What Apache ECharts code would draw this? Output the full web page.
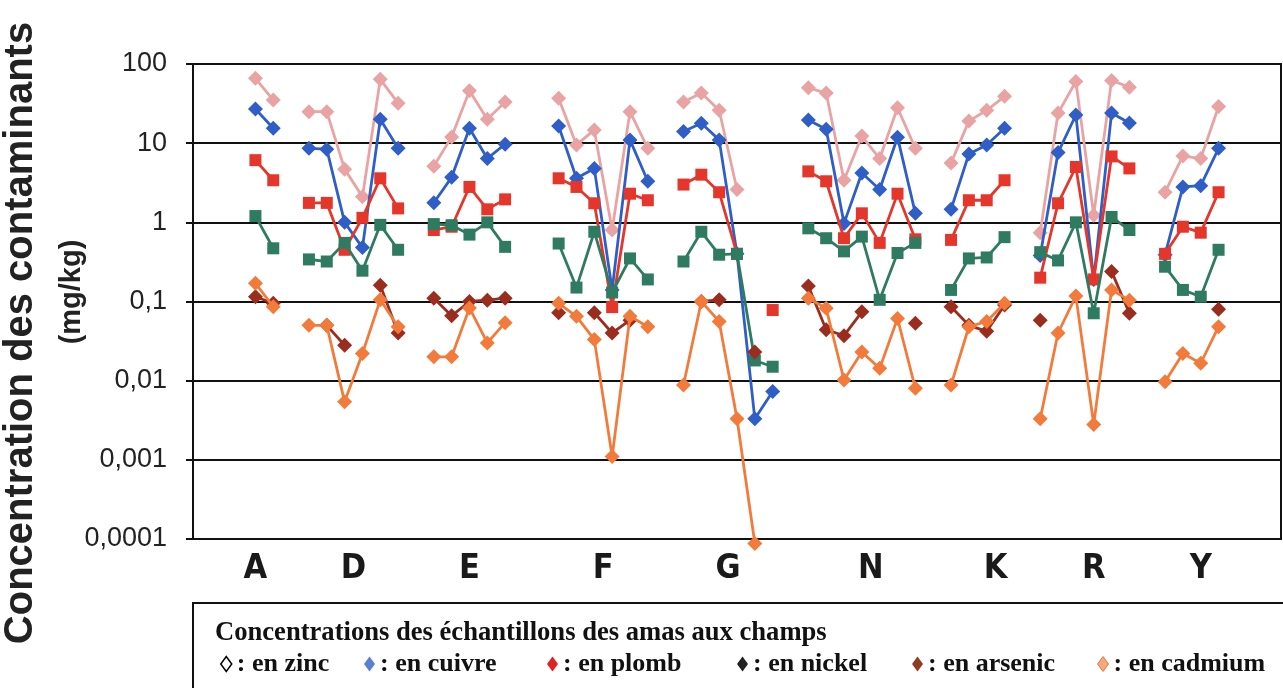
<!DOCTYPE html>
<html>
<head>
<meta charset="utf-8">
<script src="https://cdn.jsdelivr.net/npm/echarts@6/dist/echarts.min.js"></script>
<style>
  html, body { margin: 0; padding: 0; background: #fff; }
  #main { width: 1283px; height: 688px; }
</style>
</head>
<body>
<div id="main"></div>
<script>
// sites (amas) and number of samples per site
var groupNames = ['A', 'D', 'E', 'F', 'G', 'N', 'K', 'R', 'Y'];
var groupSizes = [2, 6, 5, 6, 6, 7, 4, 6, 4];
var gapsBefore = [3, 1, 1, 2, 1, 1, 1, 1, 1];
var gapAfter = 3;

// tick labels
var yTickLabels = ['0,0001', '0,001', '0,01', '0,1', '1', '10', '100'];
var groupLabelSlots = [7, 18, 31, 46, 60, 76, 90, 101, 113];

// concentrations (mg/kg), one sub-array per site
var zinc = [
  [66, 35],
  [25, 25, 4.7, 2.1, 64, 32],
  [5.1, 12, 46, 20, 33],
  [37, 9.5, 14.7, 0.8, 25, 8.6],
  [33, 43, 26, 2.6, null, null],
  [50, 43, 3.4, 12.3, 6.4, 28, 8.6],
  [5.6, 19, 26, 39],
  [0.74, 24, 60, 1.23, 62, 51],
  [2.4, 6.9, 6.4, 29]
];
var cuivre = [
  [27, 15.4],
  [8.6, 8.4, 1.0, 0.48, 20, 8.6],
  [1.77, 3.7, 15.4, 6.4, 9.7],
  [16.5, 3.6, 4.8, 0.14, 11, 3.3],
  [14, 17.8, 11, 0.4, 0.0033, 0.0073],
  [19.6, 15, 0.97, 4.2, 2.6, 11.9, 1.3],
  [1.46, 7.3, 9.5, 15.4],
  [0.38, 7.6, 22.7, 0.19, 24, 18],
  [0.39, 2.8, 2.9, 8.6]
];
var plomb = [
  [6.1, 3.4],
  [1.76, 1.76, 0.45, 1.14, 3.6, 1.5],
  [0.8, 0.88, 2.8, 1.46, 1.95],
  [3.6, 2.8, 1.74, 0.085, 2.3, 1.9],
  [3, 4, 2.4, 0.4, null, 0.078],
  [4.4, 3.3, 0.63, 1.3, 0.55, 2.3, 0.61],
  [0.6, 1.9, 1.9, 3.4],
  [0.2, 1.74, 5, 0.19, 6.8, 4.8],
  [0.4, 0.88, 0.74, 2.4]
];
var nickel = [
  [1.2, 0.47],
  [0.34, 0.32, 0.55, 0.245, 0.93, 0.45],
  [0.95, 0.92, 0.7, 1.0, 0.49],
  [0.54, 0.15, 0.76, 0.13, 0.35, 0.19],
  [0.32, 0.76, 0.39, 0.4, 0.018, 0.015],
  [0.84, 0.63, 0.43, 0.66, 0.105, 0.41, 0.55],
  [0.14, 0.35, 0.36, 0.65],
  [0.42, 0.33, 1.0, 0.071, 1.17, 0.8],
  [0.275, 0.14, 0.115, 0.45]
];
var arsenic = [
  [0.115, 0.095],
  [null, 0.05, 0.028, null, 0.16, 0.04],
  [0.11, 0.066, 0.1, 0.104, 0.11],
  [0.072, null, 0.072, 0.04, 0.058, null],
  [null, 0.1, 0.105, null, 0.023, null],
  [0.157, 0.044, 0.037, 0.074, null, null, 0.053],
  [0.086, 0.05, 0.042, 0.09],
  [0.058, null, null, null, 0.24, 0.071],
  [null, null, null, 0.08]
];
var cadmium = [
  [0.17, 0.086],
  [0.05, 0.05, 0.0054, 0.022, 0.105, 0.048],
  [0.02, 0.02, 0.083, 0.03, 0.054],
  [0.095, 0.065, 0.033, 0.0011, 0.065, 0.048],
  [0.0088, 0.1, 0.056, 0.0033, 0.000088, null],
  [0.11, 0.082, 0.0102, 0.023, 0.0143, 0.061, 0.008],
  [0.0088, 0.048, 0.056, 0.095],
  [0.0033, 0.04, 0.117, 0.0028, 0.14, 0.104],
  [0.0097, 0.022, 0.0166, 0.048]
];

var metals = ['zinc', 'cuivre', 'plomb', 'nickel', 'arsenic', 'cadmium'];
var values = [zinc, cuivre, plomb, nickel, arsenic, cadmium];
var colors = ['#E9A3A3', '#2E5EC6', '#E4362B', '#2F7B62', '#9B2D1F', '#F27B3B'];
var symbols = ['diamond', 'diamond', 'rect', 'rect', 'diamond', 'diamond'];
var legendIcons = [
  { color: '#fff', borderColor: '#000', borderWidth: 1.5 },
  { color: '#5B80D2' },
  { color: '#E02222' },
  { color: '#222' },
  { color: '#8E3B22' },
  { color: '#F6A77C', borderColor: '#E07A3C', borderWidth: 1 }
];
var legendLeft = [215, 359, 542, 732, 907, 1092];

// category slots: blank gaps between sites
var categories = [];
function pushGap(n) { for (var i = 0; i < n; i++) categories.push('gap' + categories.length); }
groupNames.forEach(function (g, gi) {
  pushGap(gapsBefore[gi]);
  for (var s = 0; s < groupSizes[gi]; s++) categories.push(g + (s + 1));
});
pushGap(gapAfter);

function flatten(groups) {
  var out = [];
  groupNames.forEach(function (g, gi) {
    for (var i = 0; i < gapsBefore[gi]; i++) out.push(null);
    for (var s = 0; s < groupSizes[gi]; s++) {
      var v = groups[gi][s];
      out.push(v === undefined ? null : v);
    }
  });
  for (var i = 0; i < gapAfter; i++) out.push(null);
  return out;
}

var labelCats = [];
for (var j = 0; j <= categories.length * 2; j++) labelCats.push('');
groupLabelSlots.forEach(function (slot, i) { labelCats[slot] = groupNames[i]; });

var chart = echarts.init(document.getElementById('main'));

var option = {
  animation: false,
  grid: {
    left: 193, right: 2, top: 64, bottom: 149,
    show: true, borderColor: '#111', borderWidth: 2,
    outerBoundsMode: 'none'
  },
  xAxis: [
    {
      type: 'category',
      data: categories,
      boundaryGap: true,
      axisLine: { show: true, lineStyle: { color: '#111', width: 2 } },
      axisTick: { show: false },
      axisLabel: { show: false },
      splitLine: { show: false }
    },
    {
      type: 'category',
      data: labelCats,
      boundaryGap: false,
      position: 'bottom',
      axisLine: { show: false },
      axisTick: { show: false },
      splitLine: { show: false },
      axisLabel: {
        interval: 0,
        margin: 13,
        color: '#1a1a1a',
        fontSize: 34,
        fontWeight: 'bold',
        fontFamily: "'Liberation Sans Narrow', 'DejaVu Sans Condensed', 'Liberation Sans', sans-serif"
      }
    }
  ],
  yAxis: {
    type: 'log',
    logBase: 10,
    min: 0.0001,
    max: 100,
    axisLine: { show: true, lineStyle: { color: '#111', width: 2 } },
    axisTick: { show: true, inside: false, length: 7, lineStyle: { color: '#111', width: 2 } },
    splitLine: { show: true, lineStyle: { color: '#111', width: 2 } },
    axisLabel: {
      margin: 26,
      color: '#222',
      fontSize: 27,
      fontFamily: "'Liberation Sans', Arial, sans-serif",
      formatter: function (v) {
        return yTickLabels[Math.round(Math.log10(v)) + 4];
      }
    }
  },
  legend: metals.map(function (m, k) {
    return {
      left: legendLeft[k],
      top: 646,
      selectedMode: false,
      itemWidth: 11,
      itemHeight: 15,
      itemGap: 6,
      formatter: ': en {name}',
      data: [{ name: m, icon: 'diamond', itemStyle: legendIcons[k] }],
      textStyle: {
        color: '#111',
        fontSize: 26,
        fontWeight: 'bold',
        fontFamily: "'Liberation Serif', 'Times New Roman', serif"
      }
    };
  }),
  graphic: [
    {
      type: 'rect',
      shape: { x: 193, y: 603, width: 1100, height: 100 },
      style: { fill: 'none', stroke: '#111', lineWidth: 2 }
    },
    {
      type: 'text',
      x: 215, y: 633,
      style: {
        text: 'Concentrations des échantillons des amas aux champs',
        font: "bold 26.6px 'Liberation Serif', 'Times New Roman', serif",
        fill: '#111',
        align: 'left', verticalAlign: 'middle',
        textAlign: 'left', textVerticalAlign: 'middle'
      }
    },
    {
      type: 'text',
      x: 21, y: 333,
      rotation: Math.PI / 2,
      style: {
        text: 'Concentration des contaminants',
        font: "bold 40px 'Liberation Sans', Arial, sans-serif",
        fill: '#222',
        align: 'center', verticalAlign: 'middle',
        textAlign: 'center', textVerticalAlign: 'middle'
      }
    },
    {
      type: 'text',
      x: 72, y: 292,
      rotation: Math.PI / 2,
      style: {
        text: '(mg/kg)',
        font: "bold 29px 'Liberation Sans', Arial, sans-serif",
        fill: '#222',
        align: 'center', verticalAlign: 'middle',
        textAlign: 'center', textVerticalAlign: 'middle'
      }
    }
  ],
  series: metals.map(function (m, k) {
    return {
      name: m,
      type: 'line',
      xAxisIndex: 0,
      data: flatten(values[k]),
      connectNulls: false,
      clip: false,
      symbol: symbols[k],
      symbolSize: symbols[k] === 'rect' ? 12 : 15,
      showSymbol: true,
      showAllSymbol: true,
      itemStyle: { color: colors[k] },
      lineStyle: { color: colors[k], width: 2.8 },
      emphasis: { disabled: true },
      z: 2 + k
    };
  })
};

chart.setOption(option);
</script>
</body>
</html>
